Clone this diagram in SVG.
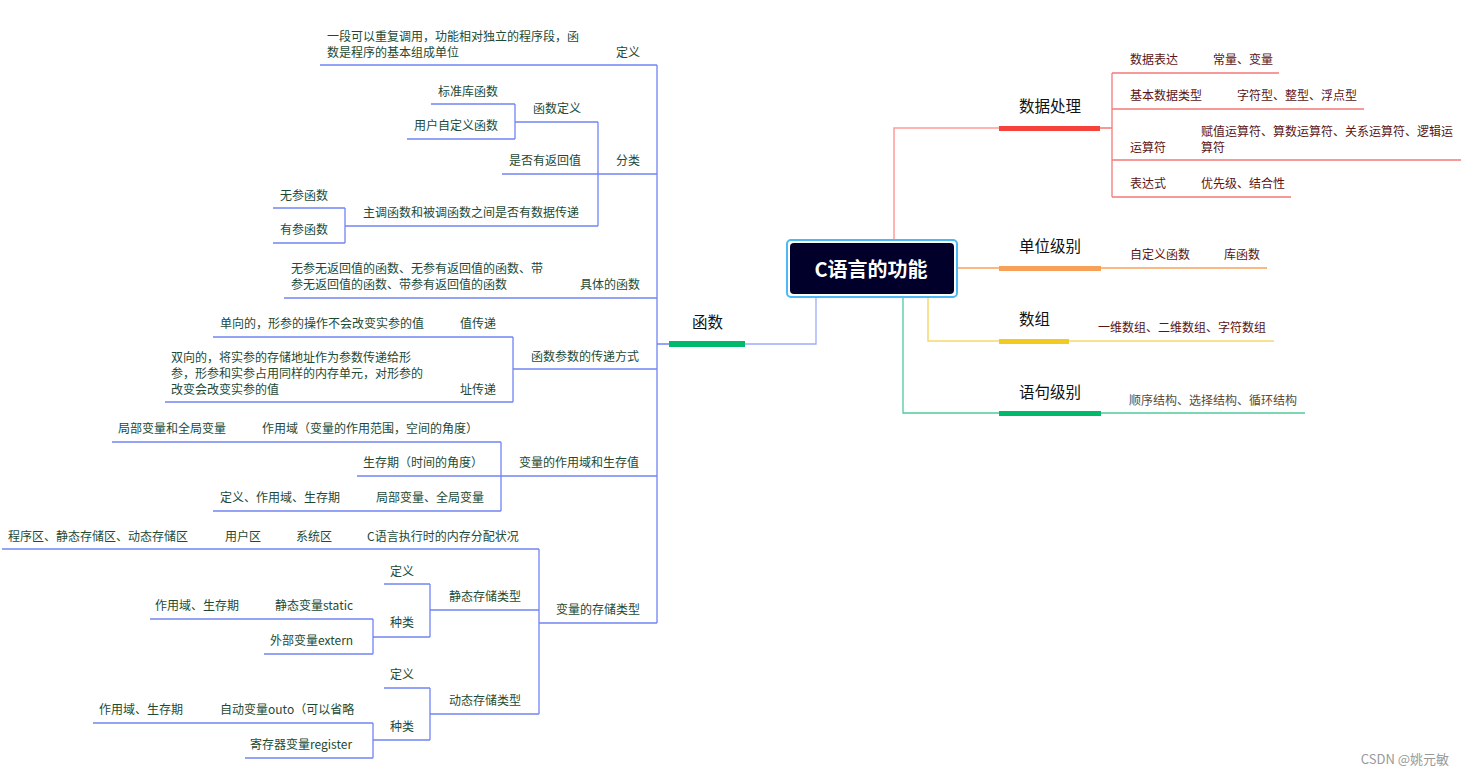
<svg xmlns="http://www.w3.org/2000/svg" width="1465" height="776" viewBox="0 0 1465 776">
<style>
text{font-family:"Noto Sans CJK SC","Noto Sans",sans-serif;}
.c{font-size:12px;fill:#1d4a35;}
.r{font-size:12px;fill:#5a1414;}
.g{font-size:12px;fill:#5a4a3a;}
.m{font-size:15.5px;fill:#111;}
.lb{fill:none;stroke:#7185f4;stroke-width:1.3;}
.lb2{fill:none;stroke:#9eacfb;stroke-width:1.3;}
.lr{fill:none;stroke:#f47a78;stroke-width:1.3;}
.lr2{fill:none;stroke:#ff9a9a;stroke-width:1.5;}
.lo{fill:none;stroke:#f9a25a;stroke-width:1.3;}
.ly{fill:none;stroke:#f5d96e;stroke-width:1.5;}
.lg{fill:none;stroke:#4fc99a;stroke-width:1.3;}
</style>
<rect width="1465" height="776" fill="#fff"/>
<g id="connectors">
<path class="lb2" d="M816,297 V344 H745"/>
<path class="lb" d="M669,344 H657 M657,65 V623"/>
<path class="lb" d="M320,65 H657 M502,174 H657 M284,298 H657 M513,369 H657 M357,476 H657 M539,623 H657"/>
<path class="lb" d="M598,122 V226 M515,122 H598 M515,104 V139 M431,104 H515 M407,139 H515 M345,226 H598 M345,208 V243 M273,208 H345 M273,243 H345"/>
<path class="lb" d="M513,337 V402 M213,337 H513 M165,402 H513"/>
<path class="lb" d="M501,442 V511 M112,442 H501 M213,511 H501"/>
<path class="lb" d="M539,549 V714 M2,549 H539 M430,610 H539 M430,584 V637 M384,584 H430 M373,637 H430 M373,619 V654 M150,619 H373 M264,654 H373"/>
<path class="lb" d="M430,714 H539 M430,688 V740 M384,688 H430 M373,740 H430 M373,723 V758 M93,723 H373 M245,758 H373"/>
<path class="lr2" d="M894,240 V128 H999"/>
<path class="lr" d="M1100,128 H1112 M1112,73 V197 M1112,73 H1279 M1112,109 H1364 M1112,160 H1461 M1112,197 H1291"/>
<path class="lo" d="M957,268 H999 M1101,268 H1267"/>
<path class="ly" d="M928,297 V341 H999 M1069,341 H1274"/>
<path class="lg" d="M903,297 V413 H999 M1101,413 H1305"/>
</g>
<g id="root">
<rect x="787" y="240" width="170" height="57" rx="4" fill="#fff" stroke="#4cb8f5" stroke-width="2"/>
<rect x="790" y="243" width="164" height="51" rx="4" fill="#00002a"/>
<text x="871" y="276.5" text-anchor="middle" font-size="20" font-weight="bold" fill="#fff">C语言的功能</text>
</g>
<g id="n-hanshu">
<rect x="669" y="341" width="76" height="6" fill="#00b96b"/>
<text class="m" x="692" y="328">函数</text>
</g>
<g id="n-dingyi">
<text class="c" x="327" y="40.5">一段可以重复调用，功能相对独立的程序段，函</text>
<text class="c" x="327" y="56.5">数是程序的基本组成单位</text>
<text class="c" x="616" y="56.5">定义</text>
</g>
<g id="n-fenlei">
<text class="c" x="438" y="95.5">标准库函数</text>
<text class="c" x="414" y="129.5">用户自定义函数</text>
<text class="c" x="533" y="112.5">函数定义</text>
<text class="c" x="509" y="164.5">是否有返回值</text>
<text class="c" x="616" y="164.5">分类</text>
<text class="c" x="280" y="199.5">无参函数</text>
<text class="c" x="280" y="233.5">有参函数</text>
<text class="c" x="363" y="216.5">主调函数和被调函数之间是否有数据传递</text>
</g>
<g id="n-juti">
<text class="c" x="291" y="272.5">无参无返回值的函数、无参有返回值的函数、带</text>
<text class="c" x="291" y="288.5">参无返回值的函数、带参有返回值的函数</text>
<text class="c" x="580" y="288.5">具体的函数</text>
</g>
<g id="n-chuandi">
<text class="c" x="220" y="327.5">单向的，形参的操作不会改变实参的值</text>
<text class="c" x="460" y="327.5">值传递</text>
<text class="c" x="171" y="361.5">双向的，将实参的存储地址作为参数传递给形</text>
<text class="c" x="171" y="377.5">参，形参和实参占用同样的内存单元，对形参的</text>
<text class="c" x="171" y="393.5">改变会改变实参的值</text>
<text class="c" x="460" y="393.5">址传递</text>
<text class="c" x="531" y="360.5">函数参数的传递方式</text>
</g>
<g id="n-zuoyongyu">
<text class="c" x="118" y="432.5">局部变量和全局变量</text>
<text class="c" x="262" y="432.5">作用域（变量的作用范围，空间的角度）</text>
<text class="c" x="363" y="466.5">生存期（时间的角度）</text>
<text class="c" x="519" y="466.5">变量的作用域和生存值</text>
<text class="c" x="220" y="501.5">定义、作用域、生存期</text>
<text class="c" x="376" y="501.5">局部变量、全局变量</text>
</g>
<g id="n-cunchu">
<text class="c" x="8" y="540.5">程序区、静态存储区、动态存储区</text>
<text class="c" x="225" y="540.5">用户区</text>
<text class="c" x="296" y="540.5">系统区</text>
<text class="c" x="367" y="540.5">C语言执行时的内存分配状况</text>
<text class="c" x="390" y="575.5">定义</text>
<text class="c" x="449" y="600.5">静态存储类型</text>
<text class="c" x="155" y="609.5">作用域、生存期</text>
<text class="c" x="275" y="609.5">静态变量static</text>
<text class="c" x="390" y="626.5">种类</text>
<text class="c" x="270" y="644.5">外部变量extern</text>
<text class="c" x="556" y="613.5">变量的存储类型</text>
<text class="c" x="390" y="678.5">定义</text>
<text class="c" x="449" y="704.5">动态存储类型</text>
<text class="c" x="99" y="713.5">作用域、生存期</text>
<text class="c" x="220" y="713.5">自动变量outo（可以省略</text>
<text class="c" x="390" y="730.5">种类</text>
<text class="c" x="250" y="748.5">寄存器变量register</text>
</g>
<g id="n-shujuchuli">
<rect x="999" y="126" width="101" height="5" fill="#f5433b"/>
<text class="m" x="1019" y="112">数据处理</text>
<text class="r" x="1130" y="63.5">数据表达</text>
<text class="r" x="1213" y="63.5">常量、变量</text>
<text class="r" x="1130" y="99.5">基本数据类型</text>
<text class="r" x="1237" y="99.5">字符型、整型、浮点型</text>
<text class="r" x="1130" y="151.5">运算符</text>
<text class="r" x="1201" y="135.5">赋值运算符、算数运算符、关系运算符、逻辑运</text>
<text class="r" x="1201" y="151.5">算符</text>
<text class="r" x="1130" y="187.5">表达式</text>
<text class="r" x="1201" y="187.5">优先级、结合性</text>
</g>
<g id="n-danwei">
<rect x="999" y="266" width="102" height="5" fill="#f7a158"/>
<text class="m" x="1019" y="252">单位级别</text>
<text class="r" x="1130" y="258.5">自定义函数</text>
<text class="r" x="1224" y="258.5">库函数</text>
</g>
<g id="n-shuzu">
<rect x="999" y="339" width="70" height="5" fill="#f2cb22"/>
<text class="m" x="1019" y="325">数组</text>
<text class="r" x="1098" y="331.5">一维数组、二维数组、字符数组</text>
</g>
<g id="n-yuju">
<rect x="999" y="411" width="102" height="5" fill="#00b96b"/>
<text class="m" x="1019" y="398">语句级别</text>
<text class="g" x="1129" y="404.5">顺序结构、选择结构、循环结构</text>
</g>
<text x="1449" y="764" text-anchor="end" font-size="13" fill="#999" font-family="Noto Sans CJK SC, sans-serif">CSDN @姚元敏</text>
</svg>
